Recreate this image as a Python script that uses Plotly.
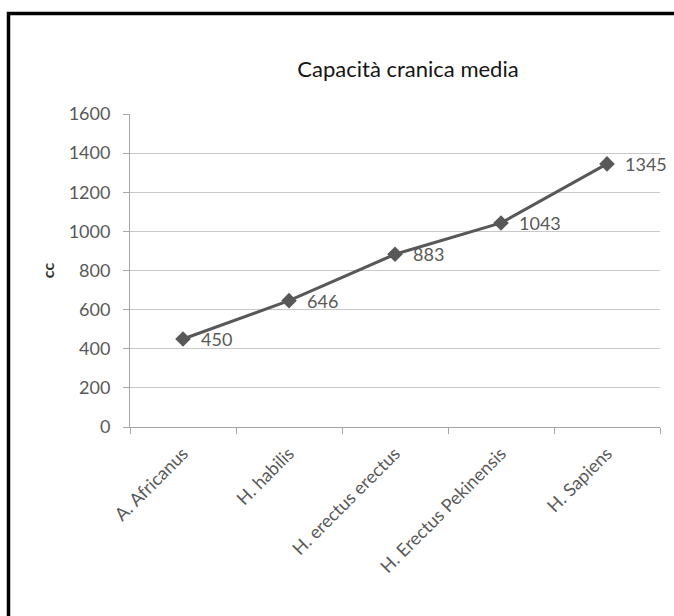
import plotly.graph_objects as go

categories = ["A. Africanus", "H. habilis", "H. erectus erectus", "H. Erectus Pekinensis", "H. Sapiens"]
values = [450, 646, 883, 1043, 1345]
y_ticks = [0, 200, 400, 600, 800, 1000, 1200, 1400, 1600]
title_text = "Capacità cranica media"
y_title = "cc"

W, H = 674, 616
L, R, T, B = 130, 14, 114, 189
pw, ph = W - L - R, H - T - B

def px_x(px):
    return (px - L) / pw

def px_y(py):
    return (H - B - py) / ph

font_family = "Lato, 'Noto Sans', sans-serif"
text_color = "#595959"

fig = go.Figure()
fig.add_trace(go.Scatter(
    x=categories, y=values,
    mode="lines+markers",
    line=dict(color="#585858", width=3),
    marker=dict(symbol="diamond", size=12, color="#585858"),
    cliponaxis=False,
    hoverinfo="skip",
))

annotations = [
    dict(x=c, y=v, xref="x", yref="y", text=str(v), showarrow=False,
         xanchor="left", yanchor="middle", xshift=16,
         font=dict(family=font_family, size=18, color=text_color))
    for c, v in zip(categories, values)
]

fig.update_layout(
    width=W, height=H,
    margin=dict(l=L, r=R, t=T, b=B),
    paper_bgcolor="white", plot_bgcolor="white",
    showlegend=False,
    font=dict(family=font_family, color=text_color),
    title=dict(text=title_text, x=px_x(408), xref="paper", y=1 - 69 / H, yref="container",
               xanchor="center", yanchor="middle",
               font=dict(family=font_family, size=22, color="#151515")),
    xaxis=dict(
        type="category", range=[-0.5, len(categories) - 0.5],
        tickson="boundaries", ticks="outside", ticklen=6, tickcolor="#a6a6a6",
        showline=True, linecolor="#a6a6a6", linewidth=1,
        showgrid=False, tickangle=-45, ticklabelstandoff=8,
        tickfont=dict(family=font_family, size=18, color=text_color),
        fixedrange=True,
    ),
    yaxis=dict(
        range=[0, 1600], tickvals=y_ticks, ticktext=[str(v) for v in y_ticks],
        ticks="outside", ticklen=6, tickcolor="#a6a6a6",
        showline=True, linecolor="#a6a6a6", linewidth=1,
        showgrid=True, gridcolor="#c8c8c8", gridwidth=1,
        zeroline=False, ticklabelstandoff=9,
        tickfont=dict(family=font_family, size=18, color=text_color),
        title=dict(text="<b>" + y_title + "</b>", standoff=10,
                   font=dict(family=font_family, size=16, color="#333333")),
        fixedrange=True,
    ),
    annotations=annotations,
    shapes=[dict(type="rect", xref="paper", yref="paper",
                 x0=px_x(8.5), x1=px_x(W + 20), y0=px_y(H + 20), y1=px_y(13.5),
                 line=dict(color="black", width=3.5), fillcolor="rgba(0,0,0,0)", layer="above")],
)

fig.write_html("out.html")
